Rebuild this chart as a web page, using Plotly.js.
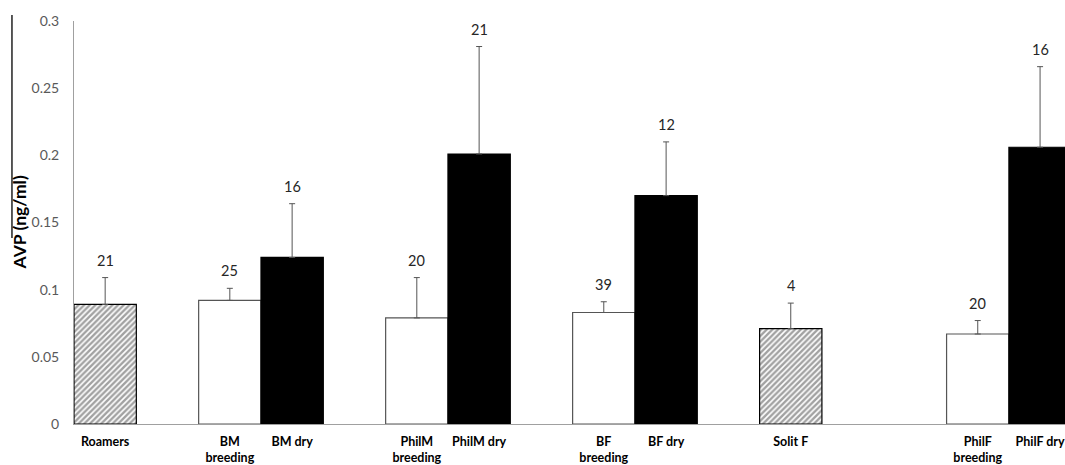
<!DOCTYPE html>
<html>
<head>
<meta charset="utf-8">
<script src="https://cdn.plot.ly/plotly-3.0.1.min.js"></script>
<style>html,body{margin:0;padding:0;background:#fff;}#chart{width:1065px;height:465px;}</style>
</head>
<body>
<div id="chart"></div>
<script>
// ---- data ----
const categories = ['Roamers', 'BM breeding', 'BM dry', 'PhilM breeding', 'PhilM dry',
                    'BF breeding', 'BF dry', 'Solit F', 'PhilF breeding', 'PhilF dry'];
const tickLabels = ['Roamers', 'BM<br>breeding', 'BM dry', 'PhilM<br>breeding', 'PhilM dry',
                    'BF<br>breeding', 'BF dry', 'Solit F', 'PhilF<br>breeding', 'PhilF dry'];
const groups = ['solitary', 'breeding', 'dry', 'breeding', 'dry',
                'breeding', 'dry', 'solitary', 'breeding', 'dry'];
const meanAVP = [0.089, 0.092, 0.124, 0.079, 0.201, 0.083, 0.170, 0.071, 0.067, 0.206];
const semAVP  = [0.020, 0.009, 0.040, 0.030, 0.080, 0.008, 0.040, 0.019, 0.010, 0.060];
const sampleN = [21, 25, 16, 20, 21, 39, 12, 4, 20, 16];
const yTicks  = [0, 0.05, 0.1, 0.15, 0.2, 0.25, 0.3];
const yTickText = ['0', '0.05', '0.1', '0.15', '0.2', '0.25', '0.3'];

// ---- category order with empty slots (gaps as in the original Excel chart) ----
const slotOrder = ['Roamers', '_g1', 'BM breeding', 'BM dry', '_g2', 'PhilM breeding', 'PhilM dry',
                   '_g3', 'BF breeding', 'BF dry', '_g4', 'Solit F', '_g5', '_g6',
                   'PhilF breeding', 'PhilF dry'];

const fillColor = {solitary: '#ffffff', breeding: '#ffffff', dry: '#000000'};
const lineColor = {solitary: '#000000', breeding: '#555555', dry: '#000000'};
const patShape  = {solitary: '/', breeding: '', dry: ''};

const FONT = 'Lato, "Open Sans", "DejaVu Sans", sans-serif';

const trace = {
  type: 'bar',
  x: categories,
  y: meanAVP,
  width: 1,
  marker: {
    color: groups.map(g => fillColor[g]),
    line: {color: groups.map(g => lineColor[g]), width: 1.2},
    pattern: {
      shape: groups.map(g => patShape[g]),
      fgcolor: '#000000',
      bgcolor: '#ffffff',
      size: 4,
      solidity: 0.6,
      fillmode: 'overlay'
    }
  },
  error_y: {
    type: 'data',
    symmetric: false,
    array: semAVP,
    arrayminus: semAVP.map(() => 0),
    color: '#555555',
    thickness: 1,
    width: 3
  },
  hoverinfo: 'skip',
  showlegend: false
};

const nAnnotations = categories.map((c, i) => ({
  x: c, y: meanAVP[i] + semAVP[i], xref: 'x', yref: 'y',
  text: String(sampleN[i]), showarrow: false,
  xanchor: 'center', yanchor: 'bottom', yshift: 7,
  font: {family: FONT, size: 14.5, color: '#262626'}
}));

const layout = {
  width: 1065, height: 465,
  margin: {l: 74, r: 0, t: 21, b: 41},
  paper_bgcolor: '#ffffff', plot_bgcolor: '#ffffff',
  barmode: 'overlay',
  showlegend: false,
  xaxis: {
    type: 'category',
    categoryorder: 'array',
    categoryarray: slotOrder,
    range: [-0.5, 15.4],
    tickvals: categories,
    ticktext: tickLabels,
    ticks: '',
    showgrid: false, zeroline: false,
    showline: true, linecolor: '#a0a0a0', linewidth: 1,
    tickfont: {family: FONT, size: 12.5, color: '#000000', weight: 700},
    ticklabelstandoff: 6,
    fixedrange: true
  },
  yaxis: {
    range: [0, 0.3],
    tickvals: yTicks,
    ticktext: yTickText,
    ticks: '',
    showgrid: false, zeroline: false,
    showline: true, linecolor: '#a0a0a0', linewidth: 1,
    tickfont: {family: FONT, size: 14, color: '#595959'},
    ticklabelstandoff: 11,
    fixedrange: true
  },
  annotations: nAnnotations.concat([{
    xref: 'paper', yref: 'paper', x: -0.0545, y: 0.5,
    text: 'AVP (ng/ml)', textangle: -90, showarrow: false,
    xanchor: 'center', yanchor: 'middle',
    font: {family: FONT, size: 17.5, color: '#000000', weight: 700}
  }]),
  shapes: [{
    type: 'line', xref: 'paper', yref: 'paper',
    x0: -0.0626, x1: -0.0626, y0: 0.4615, y1: 1.0149,
    line: {color: '#222222', width: 1.5}
  }]
};

Plotly.newPlot('chart', [trace], layout, {staticPlot: true, displayModeBar: false});
</script>
</body>
</html>
